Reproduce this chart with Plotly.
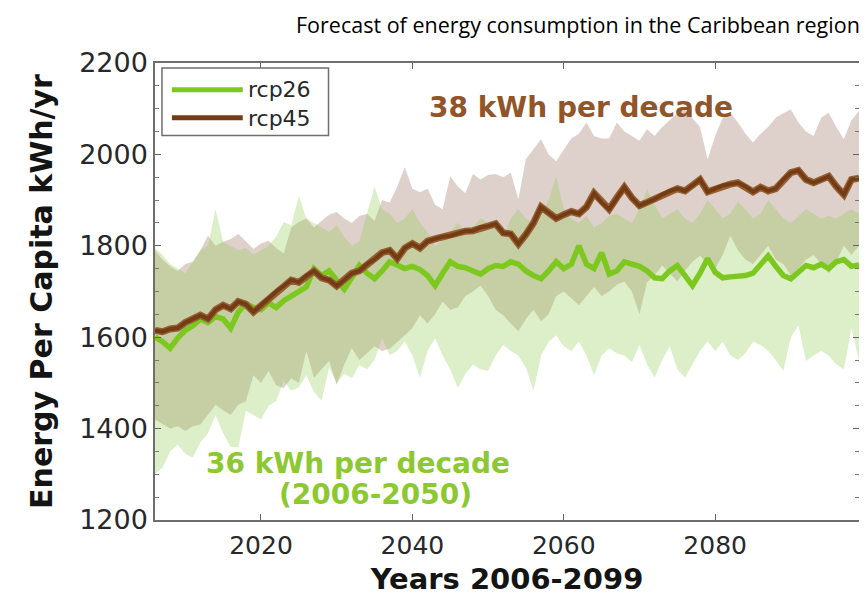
import plotly.graph_objects as go

years = list(range(2006, 2100))

rcp26_mean = [1600, 1590, 1576, 1598, 1615, 1625, 1640, 1632, 1645, 1640,
              1620, 1655, 1674, 1665, 1660, 1675, 1665, 1680, 1690, 1700,
              1710, 1750, 1735, 1745, 1725, 1705, 1730, 1757, 1740, 1728,
              1745, 1765, 1758, 1750, 1755, 1748, 1735, 1713, 1740, 1765,
              1755, 1752, 1745, 1738, 1750, 1757, 1755, 1765, 1760, 1745,
              1735, 1728, 1745, 1765, 1750, 1760, 1800, 1760, 1750, 1785,
              1738, 1745, 1765, 1760, 1755, 1745, 1730, 1728, 1745, 1757,
              1735, 1713, 1740, 1772, 1742, 1730, 1732, 1732, 1735, 1740,
              1760, 1778, 1755, 1735, 1728, 1742, 1757, 1752, 1760, 1750,
              1765, 1770, 1755, 1758]

rcp45_mean = [1615, 1612, 1618, 1620, 1632, 1640, 1648, 1640, 1660, 1670,
              1662, 1678, 1672, 1655, 1670, 1685, 1700, 1712, 1725, 1720,
              1735, 1745, 1730, 1725, 1712, 1725, 1740, 1745, 1760, 1770,
              1785, 1790, 1772, 1795, 1805, 1795, 1810, 1815, 1820, 1822,
              1828, 1832, 1833, 1840, 1843, 1848, 1828, 1826, 1804, 1825,
              1850, 1885, 1872, 1860, 1868, 1875, 1870, 1885, 1915, 1895,
              1880, 1905, 1928, 1905, 1888, 1895, 1902, 1912, 1920, 1925,
              1920, 1932, 1945, 1918, 1925, 1932, 1935, 1938, 1930, 1918,
              1928, 1920, 1925, 1945, 1960, 1965, 1945, 1938, 1945, 1952,
              1930, 1912, 1945, 1948]

rcp26_upper = [1795, 1780, 1760, 1750, 1740, 1765, 1790, 1800, 1880, 1809,
               1800, 1790, 1795, 1780, 1790, 1800, 1820, 1852, 1845, 1909,
               1860, 1850, 1840, 1830, 1845, 1820, 1800, 1810, 1870, 1930,
               1880, 1870, 1850, 1860, 1880, 1850, 1830, 1800, 1810, 1830,
               1850, 1830, 1840, 1860, 1850, 1840, 1820, 1860, 1880, 1860,
               1850, 1870, 1900, 1952, 1880, 1860, 1850, 1865, 1840, 1850,
               1865, 1870, 1860, 1850, 1880, 1924, 1890, 1860, 1870, 1880,
               1860, 1850, 1870, 1900, 1880, 1860, 1870, 1896, 1880, 1860,
               1870, 1900, 1880, 1860, 1850, 1865, 1880, 1870, 1860, 1865,
               1860, 1870, 1880, 1870]

rcp26_lower = [1300, 1315, 1350, 1365, 1345, 1337, 1370, 1390, 1430, 1390,
               1360, 1359, 1439, 1430, 1420, 1450, 1460, 1504, 1483, 1490,
               1517, 1480, 1461, 1533, 1500, 1520, 1510, 1539, 1530, 1550,
               1598, 1561, 1570, 1591, 1560, 1511, 1570, 1598, 1560, 1530,
               1489, 1520, 1540, 1530, 1526, 1560, 1583, 1570, 1560, 1533,
               1483, 1560, 1590, 1604, 1580, 1570, 1591, 1560, 1517, 1560,
               1576, 1565, 1560, 1545, 1583, 1540, 1511, 1550, 1580, 1530,
               1511, 1540, 1570, 1591, 1570, 1590, 1560, 1550, 1565, 1590,
               1583, 1570, 1550, 1526, 1600, 1626, 1548, 1560, 1570, 1560,
               1540, 1530, 1620, 1548]

rcp45_upper = [1790, 1770, 1755, 1745, 1760, 1765, 1790, 1822, 1800, 1809,
               1815, 1826, 1810, 1793, 1805, 1811, 1795, 1783, 1840, 1852,
               1860, 1840, 1855, 1868, 1874, 1860, 1850, 1865, 1870, 1855,
               1900, 1895, 1930, 1972, 1925, 1917, 1925, 1890, 1880, 1952,
               1930, 1915, 1957, 1945, 1955, 1957, 1950, 1960, 1902, 1990,
               2011, 2033, 2000, 1985, 2010, 2035, 2045, 2070, 2040, 2035,
               2035, 2070, 2050, 2040, 2030, 2055, 2040, 2060, 2075, 2090,
               2098, 2080, 2060, 1989, 2040, 2080, 2091, 2070, 2045, 2026,
               2045, 2060, 2080, 2090, 2098, 2070, 2050, 2040, 2080, 2091,
               2060, 2033, 2075, 2095]

rcp45_lower = [1420, 1410, 1400, 1405, 1395, 1405, 1409, 1430, 1452, 1440,
               1430, 1452, 1460, 1517, 1500, 1526, 1495, 1489, 1510, 1500,
               1570, 1511, 1530, 1548, 1496, 1540, 1576, 1550, 1565, 1580,
               1570, 1575, 1590, 1604, 1620, 1648, 1630, 1650, 1678, 1660,
               1665, 1690, 1700, 1713, 1690, 1660, 1648, 1630, 1613, 1640,
               1660, 1635, 1650, 1690, 1700, 1685, 1670, 1690, 1710, 1690,
               1700, 1715, 1722, 1700, 1650, 1720, 1735, 1757, 1740, 1722,
               1745, 1765, 1778, 1760, 1750, 1780, 1822, 1790, 1770, 1760,
               1780, 1800, 1770, 1760, 1735, 1750, 1770, 1780, 1760, 1740,
               1765, 1800, 1780, 1800]

series_names = ["rcp26", "rcp45"]
x_ticks = [2020, 2040, 2060, 2080]
y_ticks = [1200, 1400, 1600, 1800, 2000, 2200]

GREEN = "rgb(125,200,30)"
BROWN = "rgb(115,60,20)"

fig = go.Figure()

fig.add_trace(go.Scatter(
    x=years + years[::-1], y=rcp45_upper + rcp45_lower[::-1],
    fill="toself", fillcolor="rgba(160,120,105,0.35)",
    line=dict(width=0), hoverinfo="skip", showlegend=False))
fig.add_trace(go.Scatter(
    x=years + years[::-1], y=rcp26_upper + rcp26_lower[::-1],
    fill="toself", fillcolor="rgba(150,205,85,0.32)",
    line=dict(width=0), hoverinfo="skip", showlegend=False))

fig.add_trace(go.Scatter(x=years, y=rcp26_mean, mode="lines", name="rcp26",
                         line=dict(color=GREEN, width=5.5), showlegend=False))
fig.add_trace(go.Scatter(x=years, y=rcp45_mean, mode="lines", name="rcp45",
                         line=dict(color="rgb(150,95,50)", width=7), showlegend=False))
fig.add_trace(go.Scatter(x=years, y=rcp45_mean, mode="lines", name="rcp45",
                         line=dict(color=BROWN, width=4), showlegend=False))

# the page has an 8px body margin; figure coords = page coords - 8
OFF = 8
W, H = 867 - OFF, 588
L, R, T, B = 155 - OFF, 861 - OFF, 63 - OFF, 523 - OFF


def px(xp):
    return (xp - OFF - L) / (R - L)


def py(yp):
    return (B - (yp - OFF)) / (B - T)


shapes = [
    dict(type="rect", xref="paper", yref="paper", x0=px(162), x1=px(329),
         y0=py(136), y1=py(68), line=dict(color="rgb(110,110,110)", width=1.5),
         fillcolor="white", layer="above"),
    dict(type="line", xref="paper", yref="paper", x0=px(172), x1=px(243),
         y0=py(90), y1=py(90), line=dict(color=GREEN, width=5), layer="above"),
    dict(type="line", xref="paper", yref="paper", x0=px(172), x1=px(243),
         y0=py(118), y1=py(118), line=dict(color=BROWN, width=5), layer="above"),
]

annotations = [
    dict(text="<br>".join(series_names), xref="paper", yref="paper",
         x=px(246), y=py(104), xanchor="left", yanchor="middle", align="left",
         showarrow=False,
         font=dict(family="DejaVu Sans", size=22, color="rgb(40,40,40)")),
    dict(text="<b>38 kWh per decade</b>", xref="paper", yref="paper",
         x=px(582), y=py(108), xanchor="center", yanchor="middle", showarrow=False,
         font=dict(family="DejaVu Sans", size=28, color="rgb(145,85,40)")),
    dict(text="<b>36 kWh per decade</b>", xref="paper", yref="paper",
         x=px(359), y=py(466), xanchor="center", yanchor="middle", showarrow=False,
         font=dict(family="DejaVu Sans", size=28, color="rgb(140,200,50)")),
    dict(text="<b>(2006-2050)</b>", xref="paper", yref="paper",
         x=px(376), y=py(497), xanchor="center", yanchor="middle", showarrow=False,
         font=dict(family="DejaVu Sans", size=28, color="rgb(140,200,50)")),
    dict(text="Forecast of energy consumption in the Caribbean region",
         xref="paper", yref="paper", x=px(864), y=py(24), xanchor="right",
         yanchor="middle", showarrow=False,
         font=dict(family="Open Sans", size=21.5, color="black")),
]

fig.update_layout(
    width=W, height=H,
    margin=dict(l=L, r=W - R, t=T, b=H - B),
    plot_bgcolor="white", paper_bgcolor="white",
    shapes=shapes, annotations=annotations,
    showlegend=False,
)

fig.update_xaxes(
    range=[2006, 2099], tickvals=x_ticks, ticktext=[str(v) for v in x_ticks],
    ticks="inside", ticklen=6, tickcolor="rgb(100,100,100)",
    showline=True, linecolor="rgb(110,110,110)", linewidth=1.5, mirror="ticks",
    showgrid=False, zeroline=False, ticklabelstandoff=2,
    tickfont=dict(family="DejaVu Sans", size=25, color="rgb(40,40,40)"),
    title=dict(text="<b>Years 2006-2099</b>", standoff=10,
               font=dict(family="DejaVu Sans", size=29, color="rgb(20,20,20)")),
)
fig.update_yaxes(
    range=[1200, 2200], tickvals=y_ticks, ticktext=[str(v) for v in y_ticks],
    ticks="inside", ticklen=6, tickcolor="rgb(100,100,100)",
    minor=dict(dtick=50, ticks="inside", ticklen=4, tickcolor="rgb(120,120,120)"),
    showline=True, linecolor="rgb(110,110,110)", linewidth=1.5, mirror="ticks",
    showgrid=False, zeroline=False,
    tickfont=dict(family="DejaVu Sans", size=27, color="rgb(40,40,40)"),
    title=dict(text="<b>Energy Per Capita kWh/yr</b>", standoff=18,
               font=dict(family="DejaVu Sans", size=30, color="rgb(20,20,20)")),
)

fig.write_html("out.html")
